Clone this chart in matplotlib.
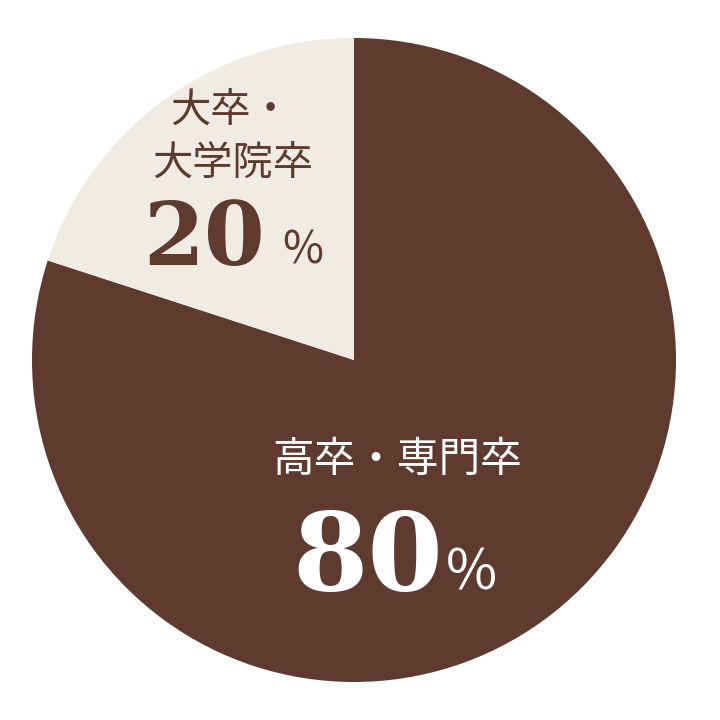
import matplotlib
matplotlib.use("Agg")
import matplotlib.pyplot as plt

categories = ["高卒・専門卒", "大卒・\n大学院卒"]
values = [80, 20]
pct_labels = ["80", "20"]

DARK = "#5e3a2f"
LIGHT = "#f0ebe3"

plt.rcParams['font.family'] = ['Noto Sans CJK JP', 'DejaVu Sans']
serif = 'DejaVu Serif'
sans = ['Noto Sans CJK JP', 'DejaVu Sans']

fig = plt.figure(figsize=(7.2, 7.2), dpi=100)
fig.patch.set_facecolor("white")
ax = fig.add_axes([0, 0, 1, 1])

ax.pie(values, colors=[DARK, LIGHT], startangle=90, counterclock=False,
       center=(354, 360), radius=322, frame=True,
       wedgeprops=dict(linewidth=0))
ax.set_xlim(0, 720)
ax.set_ylim(0, 720)
ax.set_aspect('equal')
ax.axis('off')

# 20% label (light slice)
line1, line2 = categories[1].split("\n")
ax.text(231, 720 - 110, line1, ha='center', va='center',
        fontsize=29, color=DARK, family=sans)
ax.text(233, 720 - 163, line2, ha='center', va='center',
        fontsize=29, color=DARK, family=sans)
ax.text(204, 720 - 265, pct_labels[1], ha='center', va='baseline',
        fontsize=63, fontweight='bold', color=DARK, family=serif)
ax.text(282, 720 - 263, "%", ha='left', va='baseline',
        fontsize=32, color=DARK, family=sans)

# 80% label (dark slice)
ax.text(397, 720 - 460, categories[0], ha='center', va='center',
        fontsize=30, color='white', family=sans)
ax.text(368, 720 - 590, pct_labels[0], ha='center', va='baseline',
        fontsize=78, fontweight='bold', color='white', family=serif)
ax.text(446, 720 - 590, "%", ha='left', va='baseline',
        fontsize=40, color='white', family=sans)

fig.savefig("out.png", dpi=100, facecolor="white")
